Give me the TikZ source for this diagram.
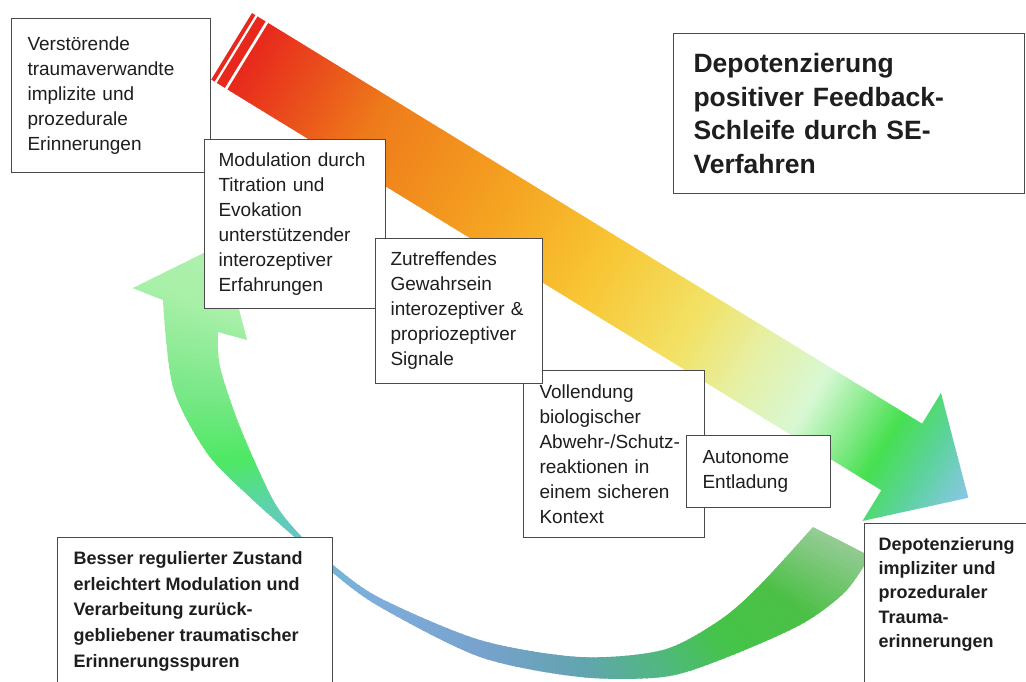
\documentclass[tikz,border=0pt]{standalone}
\usepackage{fontspec}
\setmainfont{Liberation Sans}
% arrow colours (diagonal)
\definecolor{arwA}{HTML}{E8281C}
\definecolor{arwB}{HTML}{E94A1C}
\definecolor{arwC}{HTML}{EE7A1A}
\definecolor{arwD}{HTML}{F5A522}
\definecolor{arwE}{HTML}{F8C634}
\definecolor{arwF}{HTML}{F2E266}
\definecolor{arwG}{HTML}{E6F0A6}
\definecolor{arwH}{HTML}{D8F8D4}
\definecolor{arwI}{HTML}{46E050}
\definecolor{arwJ}{HTML}{5ED2A0}
\definecolor{arwK}{HTML}{8CC6EC}
% arc colours
\definecolor{arcA}{HTML}{B8F2B4}
\definecolor{arcB}{HTML}{A8F0A8}
\definecolor{arcC}{HTML}{7AE888}
\definecolor{arcD}{HTML}{4EE864}
\definecolor{arcE}{HTML}{5CD4A8}
\definecolor{arcF}{HTML}{6CBCD4}
\definecolor{arcG}{HTML}{80ACDC}
\definecolor{arcH}{HTML}{76A2CC}
\definecolor{arcI}{HTML}{62A4B0}
\definecolor{arcJ}{HTML}{50B880}
\definecolor{arcK}{HTML}{44C448}
\definecolor{arcL}{HTML}{4CC046}
\definecolor{arcM}{HTML}{98CC98}
\definecolor{arcN}{HTML}{B0D4B0}
\definecolor{txt}{HTML}{1E1E1E}
\definecolor{boxgray}{HTML}{4A4A4A}
\begin{document}
\begin{tikzpicture}[x=1pt,y=-1pt,
  boxbase/.style={draw=boxgray, line width=1.1pt, fill=white, anchor=north west, text=txt},
  box/.style={boxbase, inner sep=0pt, align=left},
  reg/.style={font=\fontsize{19}{25}\selectfont},
  bld/.style={font=\bfseries\fontsize{18}{25.7}\selectfont},
  bldb/.style={font=\bfseries\fontsize{18}{24.3}\selectfont},
  ttl/.style={font=\bfseries\fontsize{26.5}{33.6}\selectfont}]
\useasboundingbox (0,0) rectangle (1026,682);
\clip (0,0) rectangle (1026,682);

% ---------- curved return arrow ----------
\begin{scope}
\clip (222,244) -- (133,288)
  -- plot[smooth] coordinates {(163,300) (173,387) (207,453) (253,500) (300,542) (333,573) (380,607) (480,657) (580,677) (663,677) (720,660) (800,625) (845,592) (870,556)}
  -- plot[smooth] coordinates {(813,527) (760,585) (720,620) (663,650) (580,657) (480,640) (380,598) (333,565) (300,535) (273,500) (240,427) (220,367) (218,332)}
  -- (247,340) -- cycle;
\foreach \ta/\tb/\ca/\cb in {135/160/arcA/arcB, 160/175/arcB/arcC, 175/188/arcC/arcD, 188/198/arcD/arcE, 198/212/arcE/arcF, 212/232/arcF/arcG, 232/262/arcG/arcH, 262/284/arcH/arcI, 284/300/arcI/arcJ, 300/313/arcJ/arcK, 313/326/arcK/arcL, 326/340/arcL/arcM, 340/355/arcM/arcN}{
  \foreach \j in {0,...,15}{
    \pgfmathsetmacro\qa{\ta+(\tb-\ta)*\j/16}
    \pgfmathsetmacro\qb{\ta+(\tb-\ta)*(\j+1)/16+0.4}
    \pgfmathsetmacro\pp{100-100*(\j+0.5)/16}
    \fill[\ca!\pp!\cb, shift={(520,420)}] (0,0) -- (-\qa:560) -- (-\qb:560) -- cycle;
  }
}
\end{scope}

% ---------- diagonal arrow ----------
\begin{scope}[shift={(231.6,46.3)}, rotate=-31.5]
  \fill[arwA] (0,-39) rectangle (4,39);
  \fill[arwA] (6.5,-39) rectangle (16,39);
  \begin{scope}
    \clip (19,-39) -- (786,-39) -- (786,-75) -- (864,0) -- (786,75) -- (786,39) -- (19,39) -- cycle;
    \foreach \ta/\tb/\ca/\cb in {19/80/arwA/arwB, 80/160/arwB/arwC, 160/320/arwC/arwD, 320/430/arwD/arwE, 430/540/arwE/arwF, 540/610/arwF/arwG, 610/680/arwG/arwH, 680/765/arwH/arwI, 765/815/arwI/arwJ, 815/866/arwJ/arwK}{
      \foreach \j in {0,...,19}{
        \pgfmathsetmacro\qa{\ta+(\tb-\ta)*\j/20}
        \pgfmathsetmacro\qb{\ta+(\tb-\ta)*(\j+1)/20+0.8}
        \pgfmathsetmacro\pp{100-100*(\j+0.5)/20}
        \fill[\ca!\pp!\cb] (\qa,-80) rectangle (\qb,80);
      }
    }
  \end{scope}
\end{scope}

% ---------- boxes ----------
\node[box, reg, minimum width=181, minimum height=167, text width=149] (b4) at (523,370)
  {Vollendung\\biologischer\\Abwehr-/Schutz-\\reaktionen in\\einem sicheren\\Kontext};
\node[box, reg, minimum width=199, minimum height=154, text width=167] (b1) at (11,18)
  {Verstörende\\traumaverwandte\\implizite und\\prozedurale\\Erinnerungen};
\node[box, reg, minimum width=181, minimum height=169, text width=153] (b2) at (204,139)
  {Modulation durch\\Titration und\\Evokation\\unterstützender\\interozeptiver\\Erfahrungen};
\node[box, reg, minimum width=167, minimum height=145, text width=137] (b3) at (375,238)
  {Zutreffendes\\Gewahrsein\\interozeptiver \&\\propriozeptiver\\Signale};
\node[box, reg, minimum width=144, minimum height=72, text width=112] (b5) at (686,435)
  {Autonome\\Entladung};
\node[box, ttl, minimum width=351, minimum height=160, text width=311] (title) at (673,33)
  {Depotenzierung\\positiver Feedback-\\Schleife durch SE-\\Verfahren};
\node[boxbase, bld, inner xsep=16pt, inner ysep=13.8pt] (bl) at (57,537)
  {\parbox[t][140pt][t]{243pt}{\raggedright Besser regulierter Zustand\\erleichtert Modulation und\\Verarbeitung zurück-\\gebliebener traumatischer\\Erinnerungsspuren}};
\node[boxbase, bldb, inner xsep=14pt, inner ysep=13.8pt] (br) at (864,523)
  {\parbox[t][140pt][t]{160pt}{\raggedright Depotenzierung\\impliziter und\\prozeduraler\\Trauma-\\erinnerungen}};
\end{tikzpicture}
\end{document}
